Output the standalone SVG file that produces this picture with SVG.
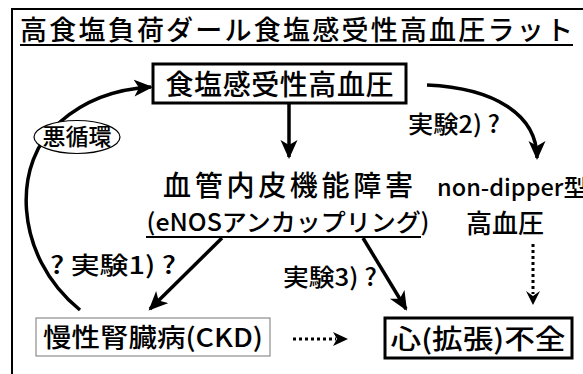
<svg xmlns="http://www.w3.org/2000/svg" width="583" height="374" viewBox="0 0 583 374">
<style>
.t{font-family:"Noto Sans CJK JP","Noto Sans",sans-serif;font-weight:500;fill:#000}
.ln{fill:none;stroke:#000;stroke-width:3.5}
.dot{fill:none;stroke:#000;stroke-width:3;stroke-dasharray:3 3}
</style>
<defs>
<marker id="ah" markerUnits="userSpaceOnUse" markerWidth="22" markerHeight="20" refX="17" refY="8.5" orient="auto">
<path d="M0,0 L19,8.5 L0,17 L5,8.5 Z" fill="#000"/>
</marker>
</defs>
<rect width="583" height="374" fill="#fff"/>
<rect x="12" y="9" width="620" height="420" fill="none" stroke="#000" stroke-width="2"/>
<g id="title">
<text class="t" x="20" y="40" font-size="27" textLength="553" lengthAdjust="spacing">高食塩負荷ダール食塩感受性高血圧ラット</text>
<line x1="20" y1="45" x2="573" y2="45" stroke="#000" stroke-width="2"/>
</g>
<g id="connectors">
<path class="ln" d="M80,310 C12,255 12,160 60,122 C85,100 115,89 151,87" marker-end="url(#ah)"/>
<line class="ln" x1="289" y1="103" x2="289" y2="157" marker-end="url(#ah)"/>
<path class="ln" d="M427,85 C495,88 537,115 537,158" marker-end="url(#ah)"/>
<line class="ln" x1="222" y1="238" x2="150" y2="309" marker-end="url(#ah)"/>
<line class="ln" x1="363" y1="238" x2="406" y2="309" marker-end="url(#ah)"/>
<line class="dot" x1="533" y1="244" x2="533" y2="294"/>
<path d="M526,291 L533,305 L540,291 L533,296 Z" fill="#000"/>
<line class="dot" x1="293" y1="339" x2="336" y2="339"/>
<path d="M333,332 L348,339 L333,346 L337,339 Z" fill="#000"/>
</g>
<g id="vicious">
<ellipse cx="77" cy="137" rx="43" ry="16.5" fill="#fff" stroke="#000" stroke-width="1.2"/>
<text class="t" x="77" y="145" font-size="23" text-anchor="middle">悪循環</text>
</g>
<g id="hypertension">
<rect x="153" y="64" width="253" height="39" fill="#fff" stroke="#000" stroke-width="3"/>
<text class="t" x="279.5" y="95" font-size="28" text-anchor="middle" textLength="228" lengthAdjust="spacing">食塩感受性高血圧</text>
</g>
<g id="endothelial">
<text class="t" x="288" y="196" font-size="28" text-anchor="middle" textLength="250" lengthAdjust="spacing">血管内皮機能障害</text>
<text class="t" x="288" y="231" font-size="24" text-anchor="middle" textLength="283" lengthAdjust="spacingAndGlyphs">(eNOSアンカップリング)</text>
<line x1="146" y1="237" x2="421" y2="237" stroke="#000" stroke-width="2"/>
</g>
<g id="nondipper">
<text class="t" x="437" y="196" font-size="23" textLength="150" lengthAdjust="spacingAndGlyphs">non-dipper型</text>
<text class="t" x="505" y="233" font-size="26" text-anchor="middle">高血圧</text>
</g>
<g id="ckd">
<rect x="36" y="318" width="234" height="38" fill="#fff" stroke="#777" stroke-width="1"/>
<text class="t" x="153" y="347" font-size="26" text-anchor="middle" textLength="220" lengthAdjust="spacingAndGlyphs">慢性腎臓病(CKD)</text>
</g>
<g id="heart">
<rect x="385" y="318" width="187" height="40" fill="#fff" stroke="#000" stroke-width="3"/>
<text class="t" x="478" y="349" font-size="27" text-anchor="middle" textLength="175" lengthAdjust="spacingAndGlyphs">心(拡張)不全</text>
</g>
<g id="labels">
<text class="t" x="50" y="274" font-size="24" textLength="126" lengthAdjust="spacingAndGlyphs">? 実験1) ?</text>
<text class="t" x="283" y="286" font-size="24" textLength="94" lengthAdjust="spacingAndGlyphs">実験3) ?</text>
<text class="t" x="408" y="133" font-size="24" textLength="92" lengthAdjust="spacingAndGlyphs">実験2) ?</text>
</g>
</svg>
